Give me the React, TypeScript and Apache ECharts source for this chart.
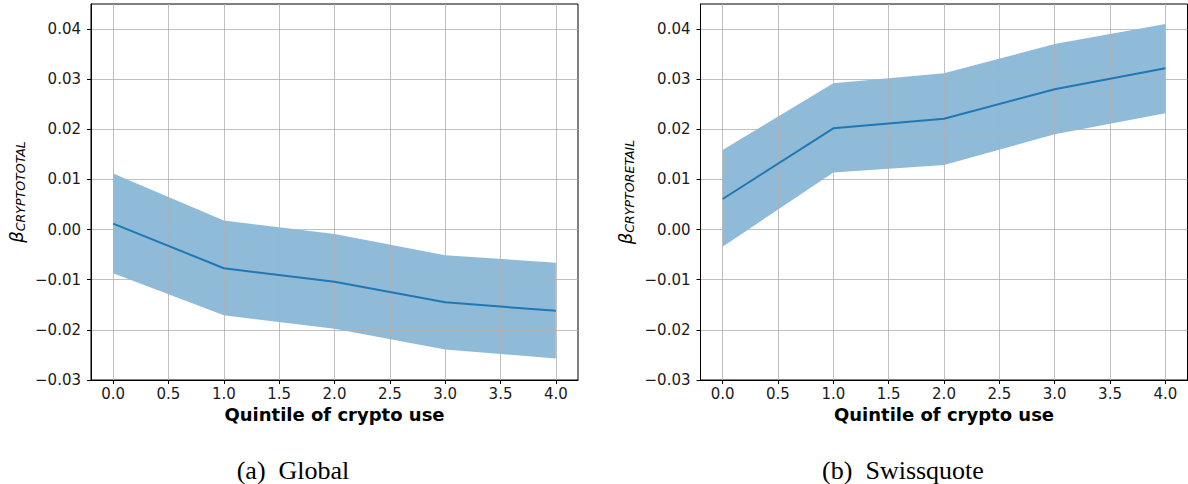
import React, { useEffect, useRef } from "react";
import * as echarts from "echarts";

const quintiles = [0, 1, 2, 3, 4];
const globalMean = [0.0012, -0.0077, -0.0104, -0.0145, -0.0162];
const globalUpper = [0.0112, 0.0018, -0.0009, -0.0051, -0.0066];
const globalLower = [-0.0087, -0.0171, -0.0198, -0.0239, -0.0257];
const swissMean = [0.0061, 0.0202, 0.0221, 0.028, 0.0322];
const swissUpper = [0.0159, 0.0292, 0.0312, 0.037, 0.041];
const swissLower = [-0.0034, 0.0114, 0.0129, 0.019, 0.0232];

const xLabel = "Quintile of crypto use";
const captions = ["(a)  Global", "(b)  Swissquote"];
const ySubs = ["CRYPTOTOTAL", "CRYPTORETAIL"];

const FONT = "DejaVu Sans";
const GRID_COLOR = "#b0b0b0";
const LINE_COLOR = "#1f77b4";
const BAND_COLOR = "rgba(31,119,180,0.5)";

const grids = [
  { left: 91, top: 4, width: 487, height: 376 },
  { left: 700.5, top: 4, width: 487, height: 376 },
];

function fmtY(v: number) {
  const s = Math.abs(v).toFixed(2);
  return v < -1e-9 ? "\u2212" + s : s;
}

export default function App() {
  const ref = useRef<HTMLDivElement>(null);
  useEffect(() => {
    if (!ref.current) return;
    const chart = echarts.init(ref.current, null, { renderer: "svg" });
    const panels = [
      { mean: globalMean, upper: globalUpper, lower: globalLower },
      { mean: swissMean, upper: swissUpper, lower: swissLower },
    ];
    const xAxis: any[] = [];
    const yAxis: any[] = [];
    const series: any[] = [];
    const graphic: any[] = [];
    panels.forEach((p, i) => {
      xAxis.push({
        type: "value",
        gridIndex: i,
        min: -0.2,
        max: 4.2,
        splitNumber: 8,
        axisLine: { show: true, onZero: false, lineStyle: { color: "#000", width: 1 } },
        axisTick: { show: true, length: 4, lineStyle: { color: "#000", width: 1 } },
        axisLabel: {
          showMinLabel: false,
          showMaxLabel: false,
          margin: 6,
          fontFamily: FONT,
          fontSize: 15,
          color: "#1a1a1a",
          formatter: (v: number) => v.toFixed(1),
        },
        splitLine: {
          show: true,
          showMinLine: false,
          showMaxLine: false,
          lineStyle: { color: GRID_COLOR, width: 0.8 },
        },
      });
      yAxis.push({
        type: "value",
        gridIndex: i,
        min: -0.03,
        max: 0.045,
        interval: 0.01,
        axisLine: { show: true, onZero: false, lineStyle: { color: "#000", width: 1 } },
        axisTick: { show: true, length: 4, lineStyle: { color: "#000", width: 1 } },
        axisLabel: {
          showMaxLabel: false,
          margin: 10,
          fontFamily: FONT,
          fontSize: 15,
          color: "#1a1a1a",
          formatter: (v: number) => (v > 0.0449 ? "" : fmtY(v)),
        },
        splitLine: {
          show: true,
          showMinLine: false,
          showMaxLine: false,
          lineStyle: { color: GRID_COLOR, width: 0.8 },
        },
      });
      series.push({
        type: "custom",
        xAxisIndex: i,
        yAxisIndex: i,
        z: -1,
        silent: true,
        data: quintiles.map((q, k) => [q, p.lower[k], p.upper[k]]),
        encode: { x: 0, y: [1, 2] },
        renderItem: (params: any, api: any) => {
          if (params.dataIndex !== 0) return null;
          const top = quintiles.map((q, k) => api.coord([q, p.upper[k]]));
          const bottom = quintiles
            .map((q, k) => api.coord([q, p.lower[k]]))
            .reverse();
          return {
            type: "polygon",
            shape: { points: top.concat(bottom) },
            style: { fill: BAND_COLOR, stroke: null },
          };
        },
      });
      series.push({
        type: "line",
        xAxisIndex: i,
        yAxisIndex: i,
        symbol: "none",
        z: 5,
        lineStyle: { color: LINE_COLOR, width: 2 },
        data: quintiles.map((q, k) => [q, p.mean[k]]),
      });
      const g = grids[i];
      const cx = g.left + g.width / 2;
      graphic.push({
        type: "text",
        x: cx,
        y: 414.5,
        style: {
          text: xLabel,
          font: `bold 18px "${FONT}"`,
          fill: "#000",
          align: "center",
          verticalAlign: "middle",
        },
      });
      graphic.push({
        type: "text",
        x: g.left - 75,
        y: 192,
        rotation: Math.PI / 2,
        style: {
          text: `{b|\u03b2}{s|${ySubs[i]}}`,
          rich: {
            b: { fontSize: 18, fontStyle: "italic", fontFamily: FONT, fill: "#000" },
            s: {
              fontSize: 12.6,
              fontStyle: "italic",
              fontFamily: FONT,
              fill: "#000",
              padding: [8, 0, 0, 0],
            },
          },
          align: "center",
          verticalAlign: "middle",
          fill: "#000",
        },
      });
      graphic.push({
        type: "text",
        x: i === 0 ? 293 : 903,
        y: 470,
        style: {
          text: captions[i],
          font: `26px "Liberation Serif"`,
          fill: "#000",
          align: "center",
          verticalAlign: "middle",
        },
      });
    });
    chart.setOption({
      animation: false,
      backgroundColor: "#fff",
      grid: grids.map((g) => ({
        ...g,
        show: true,
        borderColor: "#000",
        borderWidth: 1,
        backgroundColor: "transparent",
        containLabel: false,
      })),
      xAxis,
      yAxis,
      series,
      graphic,
    });
    return () => chart.dispose();
  }, []);
  return (
    <div
      ref={ref}
      style={{ position: "fixed", left: 0, top: 0, width: 1188, height: 484 }}
    />
  );
}
